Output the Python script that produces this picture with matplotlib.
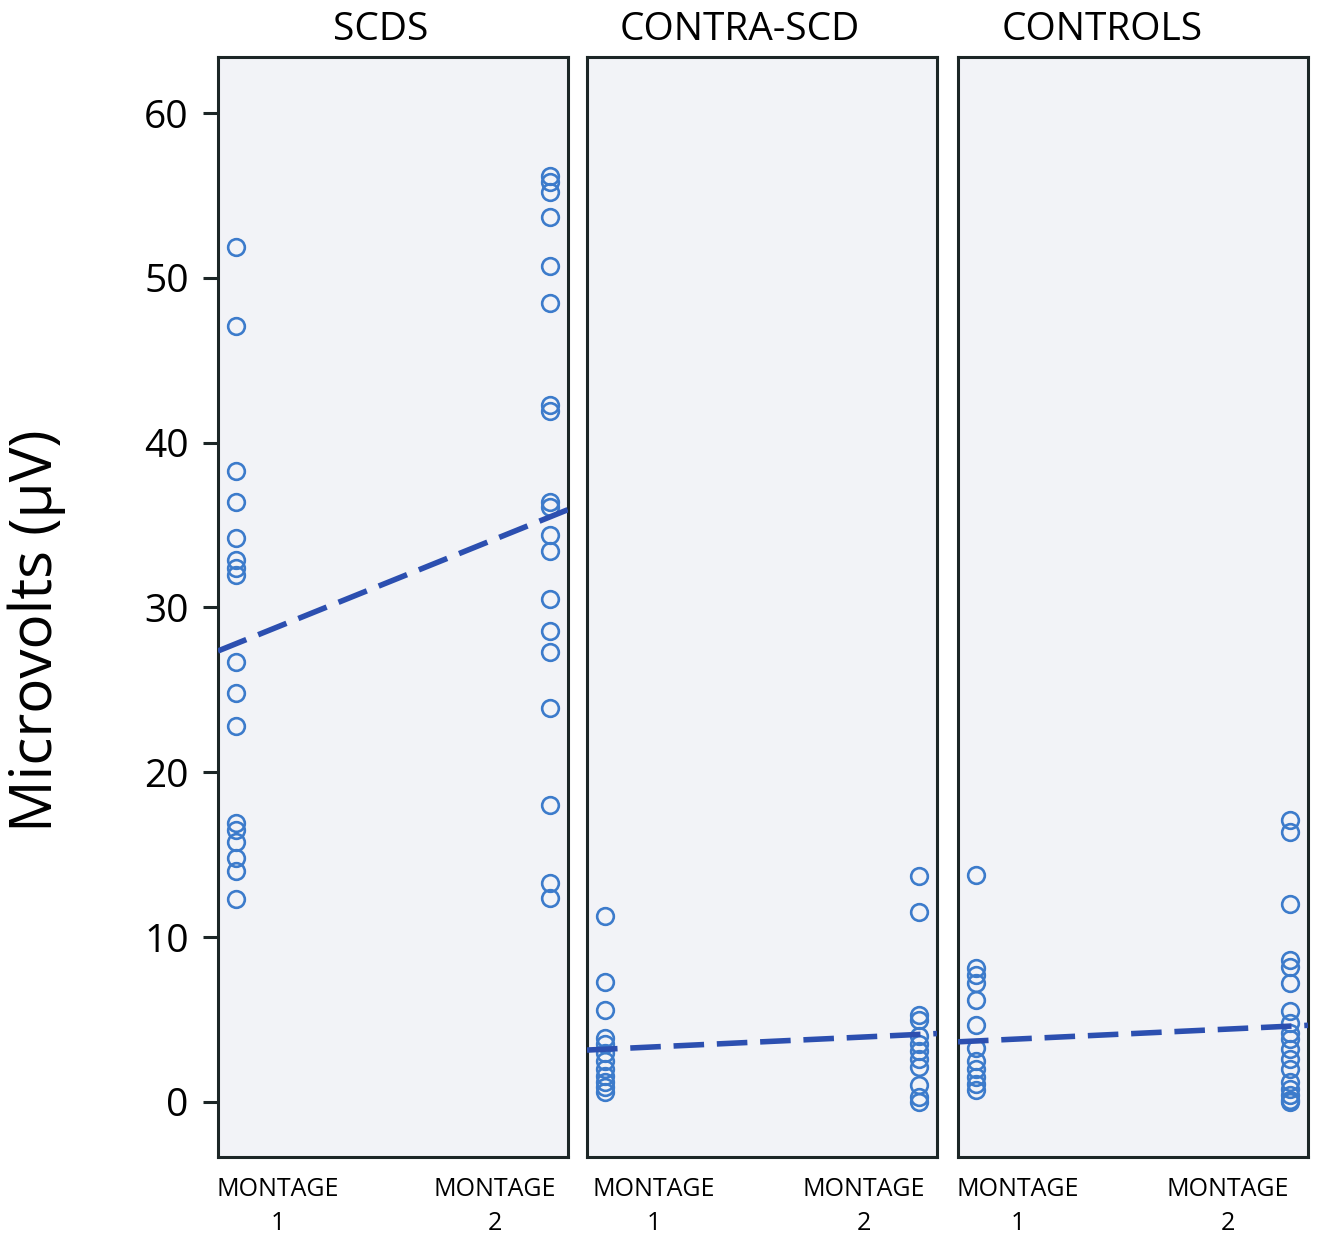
import matplotlib.pyplot as plt
import numpy as np

plt.rcParams['font.family'] = ['Open Sans', 'DejaVu Sans']

groups = ['SCDS', 'CONTRA-SCD', 'CONTROLS']

# values (microvolts)
scds_m1 = [51.9, 47.1, 38.3, 36.4, 34.2, 32.9, 32.4, 32.0, 26.7, 24.8, 22.8,
           16.9, 16.5, 15.8, 14.8, 14.0, 12.3]
scds_m2 = [56.2, 55.8, 55.2, 53.7, 50.7, 48.5, 42.3, 41.9, 36.4, 36.1, 34.4,
           33.4, 30.5, 28.6, 27.3, 23.9, 18.0, 13.3, 12.4]
contra_m1 = [11.3, 7.3, 5.6, 3.9, 3.5, 3.0, 2.5, 2.0, 1.6, 1.2, 0.9, 0.6]
contra_m2 = [13.7, 11.5, 5.3, 5.0, 4.0, 3.5, 3.1, 2.6, 2.1, 1.0, 0.3, 0.0]
ctrl_m1 = [13.8, 8.1, 7.7, 7.2, 6.2, 4.7, 3.3, 2.5, 2.0, 1.5, 1.1, 0.7]
ctrl_m2 = [17.1, 16.4, 12.0, 8.6, 8.2, 7.2, 5.5, 4.8, 4.2, 3.8, 3.2, 2.6,
           2.0, 1.2, 0.8, 0.4, 0.1, 0.0]

# fitted line values at montage 1 and montage 2
scds_fit = [27.8, 35.5]
contra_fit = [3.2, 4.1]
ctrl_fit = [3.7, 4.6]

montage_labels = ['MONTAGE\n1', 'MONTAGE\n2']
yticks = [0, 10, 20, 30, 40, 50, 60]

data = [(scds_m1, scds_m2, scds_fit),
        (contra_m1, contra_m2, contra_fit),
        (ctrl_m1, ctrl_m2, ctrl_fit)]

fig = plt.figure(figsize=(13.17, 12.36), dpi=100)
lefts = [0.1655, 0.4457, 0.7274]
title_x = [0.466, 0.436, 0.411]
label_x = [(0.17, 0.79), (0.19, 0.79), (0.17, 0.77)]

xlo, xhi = 0.943, 2.057
for i, (m1, m2, fit) in enumerate(data):
    ax = fig.add_axes([lefts[i], 0.0639, 0.2658, 0.890])
    ax.set_facecolor('#f2f3f7')
    ax.plot([1] * len(m1), m1, 'o', ms=12, mfc='none', mec='#3c7bcb', mew=1.9)
    ax.plot([2] * len(m2), m2, 'o', ms=12, mfc='none', mec='#3c7bcb', mew=1.9)
    slope = fit[1] - fit[0]
    xs = np.array([xlo, xhi])
    ax.plot(xs, fit[0] + slope * (xs - 1), color='#2c4fb0', lw=4.0,
            dashes=(5.5, 2.3), zorder=3)
    ax.set_xlim(xlo, xhi)
    ax.set_ylim(-3.34, 63.4)
    ax.set_xticks([])
    for s in ax.spines.values():
        s.set_linewidth(2.2)
        s.set_color('#1c2626')
    if i == 0:
        ax.set_yticks(yticks)
        ax.tick_params(axis='y', length=11, width=2.2, pad=10, labelsize=28,
                       color='#1c2626')
    else:
        ax.set_yticks([])
    ax.text(title_x[i], 1.0155, groups[i], transform=ax.transAxes,
            ha='center', va='baseline', fontsize=28)
    for lx, lab in zip(label_x[i], montage_labels):
        ax.text(lx, -0.018, lab, transform=ax.transAxes, ha='center',
                va='top', fontsize=18, linespacing=1.5)

fig.text(0.028, 0.49, 'Microvolts (\u03bcV)', rotation=90, ha='center',
         va='center', fontsize=42)

plt.savefig('out.png', dpi=100)
